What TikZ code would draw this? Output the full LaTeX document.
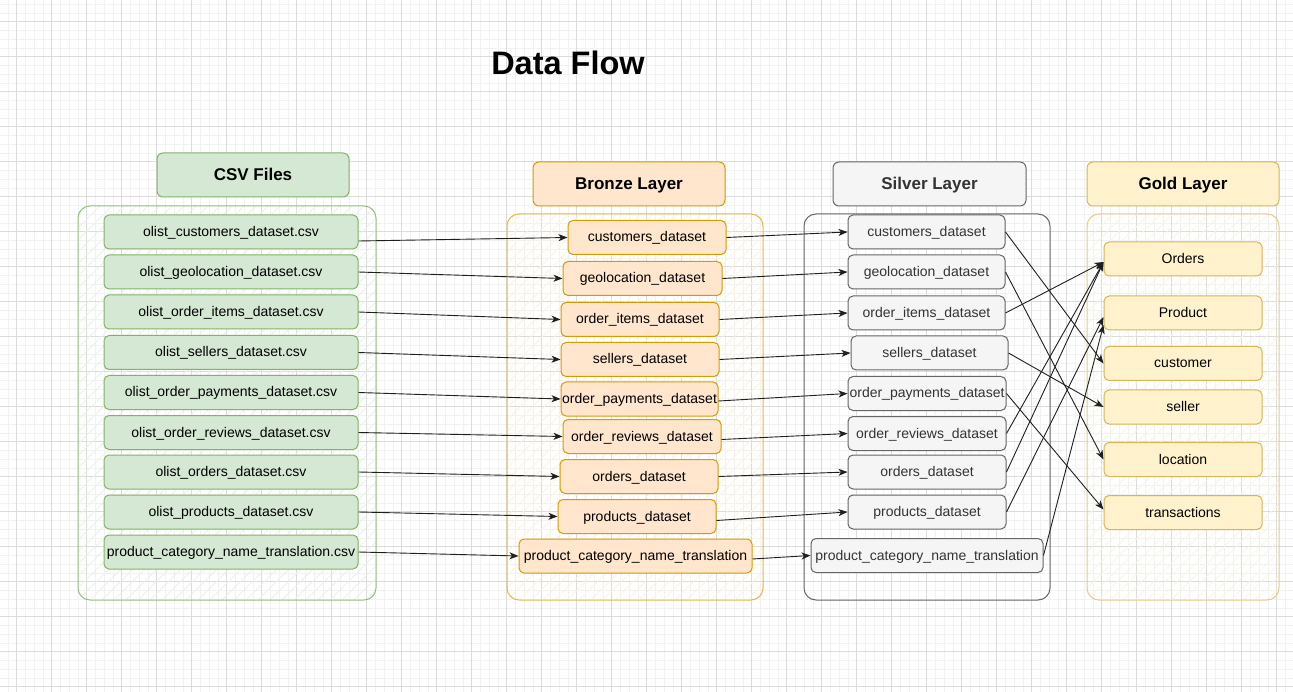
\documentclass[tikz,border=0pt]{standalone}
\usepackage{fontspec}
\setmainfont{Liberation Sans}
\usetikzlibrary{arrows.meta}
\definecolor{gfill}{HTML}{D5E8D4}\definecolor{gline}{HTML}{82B366}
\definecolor{bfill}{HTML}{FFE6CC}\definecolor{bline}{HTML}{D79B00}
\definecolor{sfill}{HTML}{F5F5F5}\definecolor{sline}{HTML}{666666}
\definecolor{yfill}{HTML}{FFF2CC}\definecolor{yline}{HTML}{D6B656}
\definecolor{gridminor}{HTML}{F2F2F2}\definecolor{gridmajor}{HTML}{DCDCDC}
\definecolor{stext}{HTML}{333333}
\tikzset{
  box/.style={rounded corners=5pt, line width=1pt, inner sep=0pt, minimum height=34pt,
    font=\fontsize{14}{16}\selectfont, align=center, text depth=2pt, text height=11pt},
  csvbox/.style={box, fill=gfill, draw=gline, minimum width=254pt},
  brzbox/.style={box, fill=bfill, draw=bline},
  slvbox/.style={box, fill=sfill, draw=sline, text=stext},
  gldbox/.style={box, fill=yfill, draw=yline, minimum width=158pt},
  head/.style={rounded corners=6pt, line width=1pt, inner sep=0pt, minimum width=192pt,
    minimum height=44pt, font=\bfseries\fontsize{17}{20}\selectfont, text depth=2pt, text height=14pt},
  hatchlines/.style={
    path picture={\foreach \t in {-420,-408,...,320}
      \draw[line width=0.8pt, #1] ([xshift=\t pt]path picture bounding box.south west) -- ++(500,-500);}},
  cont/.style={rounded corners=12pt, line width=1pt, inner sep=0pt},
  conn/.style={-{Stealth[length=9pt,width=7pt,inset=2.5pt]}, line width=0.9pt, black!88},
}
\begin{document}
\begin{tikzpicture}[x=1pt,y=-1pt]
\useasboundingbox (0,0) rectangle (1293,692);
\fill[white] (0,0) rectangle (1293,692);
% grid
\foreach \i [evaluate=\i as \x using 16.7+8.75*\i] in {-1,...,147}
  \draw[gridminor, line width=0.8pt] (\x,0) -- (\x,692);
\foreach \i [evaluate=\i as \y using 21.7+8.75*\i] in {-2,...,77}
  \draw[gridminor, line width=0.8pt] (0,\y) -- (1293,\y);
\foreach \i [evaluate=\i as \x using 16.7+35*\i] in {0,...,36}
  \draw[gridmajor, line width=0.9pt] (\x,0) -- (\x,692);
\foreach \i [evaluate=\i as \y using 21.7+35*\i] in {0,...,19}
  \draw[gridmajor, line width=0.9pt] (0,\y) -- (1293,\y);

% title
\node[font=\bfseries\fontsize{32.5}{38}\selectfont] (title) at (568,63) {Data Flow};

% containers
\node[cont, draw=gline!85, minimum width=298pt, minimum height=394pt, hatchlines={gline!16}] (csvc) at (227,403) {};
\node[cont, draw=bline!70, minimum width=256pt, minimum height=386pt, hatchlines={bline!11}] (brzc) at (635,407) {};
\node[cont, draw=sline, minimum width=246pt, minimum height=386pt] (slvc) at (927,407) {};
\node[cont, draw=yline!70, minimum width=192pt, minimum height=386pt, hatchlines={yline!14}] (gldc) at (1183,407) {};

% headers
\node[head, fill=gfill, draw=gline] (hcsv) at (253,175) {CSV Files};
\node[head, fill=bfill, draw=bline] (hbrz) at (629,184) {Bronze Layer};
\node[head, fill=sfill, draw=sline, text=stext, minimum width=193pt] (hslv) at (929.5,184) {Silver Layer};
\node[head, fill=yfill, draw=yline] (hgld) at (1183,184) {Gold Layer};

% CSV files
\node[csvbox] (c1) at (231,232) {olist\_customers\_dataset.csv};
\node[csvbox] (c2) at (231,272) {olist\_geolocation\_dataset.csv};
\node[csvbox] (c3) at (231,312) {olist\_order\_items\_dataset.csv};
\node[csvbox] (c4) at (231,352.5) {olist\_sellers\_dataset.csv};
\node[csvbox] (c5) at (231,392.5) {olist\_order\_payments\_dataset.csv};
\node[csvbox] (c6) at (231,432.5) {olist\_order\_reviews\_dataset.csv};
\node[csvbox] (c7) at (231,472) {olist\_orders\_dataset.csv};
\node[csvbox] (c8) at (231,512) {olist\_products\_dataset.csv};
\node[csvbox] (c9) at (231,552) {product\_category\_name\_translation.csv};

% bronze
\node[brzbox, minimum width=158pt] (b1) at (647,237.5) {customers\_dataset};
\node[brzbox, minimum width=159pt] (b2) at (642.5,278.5) {geolocation\_dataset};
\node[brzbox, minimum width=158pt] (b3) at (640,319.5) {order\_items\_dataset};
\node[brzbox, minimum width=158pt] (b4) at (640,359.5) {sellers\_dataset};
\node[brzbox, minimum width=157pt] (b5) at (639.5,399) {order\_payments\_dataset};
\node[brzbox, minimum width=158pt] (b6) at (642,436.5) {order\_reviews\_dataset};
\node[brzbox, minimum width=158pt] (b7) at (639,476.5) {orders\_dataset};
\node[brzbox, minimum width=158pt] (b8) at (637,516.5) {products\_dataset};
\node[brzbox, minimum width=233pt] (b9) at (635.5,556) {product\_category\_name\_translation};

% silver
\node[slvbox, minimum width=157pt] (s1) at (926.5,232) {customers\_dataset};
\node[slvbox, minimum width=157pt] (s2) at (926.5,272) {geolocation\_dataset};
\node[slvbox, minimum width=157pt] (s3) at (926.5,313) {order\_items\_dataset};
\node[slvbox, minimum width=157pt] (s4) at (929.5,353) {sellers\_dataset};
\node[slvbox, minimum width=158pt] (s5) at (927,393.5) {order\_payments\_dataset};
\node[slvbox, minimum width=158pt] (s6) at (927,433.5) {order\_reviews\_dataset};
\node[slvbox, minimum width=158pt] (s7) at (927,472) {orders\_dataset};
\node[slvbox, minimum width=158pt] (s8) at (927,512) {products\_dataset};
\node[slvbox, minimum width=232pt] (s9) at (927,555.5) {product\_category\_name\_translation};

% gold
\node[gldbox] (g1) at (1183,259) {Orders};
\node[gldbox] (g2) at (1183,313) {Product};
\node[gldbox] (g3) at (1183,363.5) {customer};
\node[gldbox] (g4) at (1183,407) {seller};
\node[gldbox] (g5) at (1183,459.5) {location};
\node[gldbox] (g6) at (1183,512.5) {transactions};

% CSV -> bronze
\draw[conn] ([yshift=-9pt]c1.east) -- (b1.west);
\draw[conn] (c2.east) -- (b2.west);
\draw[conn] (c3.east) -- (b3.west);
\draw[conn] (c4.east) -- (b4.west);
\draw[conn] (c5.east) -- (b5.west);
\draw[conn] (c6.east) -- (b6.west);
\draw[conn] (c7.east) -- (b7.west);
\draw[conn] (c8.east) -- (b8.west);
\draw[conn] (c9.east) -- (b9.west);

% bronze -> silver
\draw[conn] (b1.east) -- (s1.west);
\draw[conn] (b2.east) -- (s2.west);
\draw[conn] (b3.east) -- (s3.west);
\draw[conn] (b4.east) -- (s4.west);
\draw[conn] ([yshift=-2pt]b5.east) -- (s5.west);
\draw[conn] ([yshift=-3pt]b6.east) -- (s6.west);
\draw[conn] (b7.east) -- (s7.west);
\draw[conn] ([yshift=-4pt]b8.east) -- (s8.west);
\draw[conn] ([yshift=-3pt]b9.east) -- (s9.west);

% silver -> gold
\draw[conn] (s1.east) -- (g3.west);
\draw[conn] (s2.east) -- (g5.west);
\draw[conn] (s3.east) -- ([yshift=-3pt]g1.west);
\draw[conn] (s4.east) -- (g4.west);
\draw[conn] (s5.east) -- ([yshift=3pt]g6.west);
\draw[conn] (s6.east) -- ([yshift=-3pt]g1.west);
\draw[conn] (s7.east) -- ([yshift=-3pt]g1.west);
\draw[conn] (s8.east) -- ([yshift=-4pt]g2.west);
\draw[conn] (s9.east) -- ([yshift=-12pt]g2.west);
\end{tikzpicture}
\end{document}
